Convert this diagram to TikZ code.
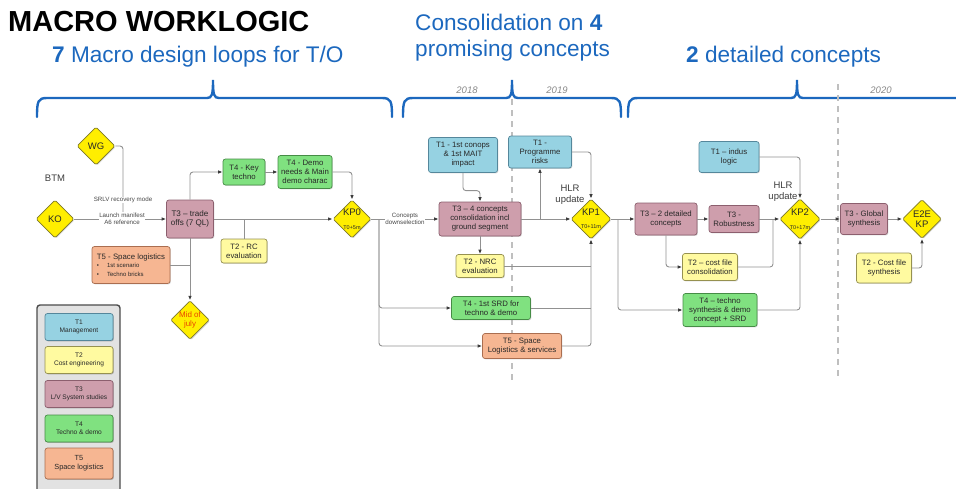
\documentclass[tikz,border=0pt]{standalone}
\usepackage{fontspec}
\setmainfont{Liberation Sans}
\usetikzlibrary{arrows.meta,shapes.geometric,calc,shadows}

\definecolor{hdblue}{RGB}{28,104,190}
\definecolor{txtc}{RGB}{40,40,40}
\definecolor{lnc}{RGB}{145,145,145}
\definecolor{arrc}{RGB}{60,60,60}
\definecolor{fT1}{RGB}{150,210,226}
\definecolor{dT1}{RGB}{85,135,155}
\definecolor{fT2}{RGB}{255,250,160}
\definecolor{dT2}{RGB}{150,145,80}
\definecolor{fT3}{RGB}{206,158,172}
\definecolor{dT3}{RGB}{140,95,110}
\definecolor{fT4}{RGB}{128,225,128}
\definecolor{dT4}{RGB}{70,140,70}
\definecolor{fT5}{RGB}{246,182,146}
\definecolor{dT5}{RGB}{170,110,80}
\definecolor{kpy}{RGB}{255,238,0}
\definecolor{kpd}{RGB}{125,120,40}
\definecolor{redtxt}{RGB}{232,70,0}
\definecolor{yeargray}{RGB}{135,135,135}
\definecolor{legfill}{RGB}{226,226,226}

\newcommand{\fs}[1]{\fontsize{#1}{#1}\selectfont}

\tikzset{
  base/.style={rounded corners=2.5pt, line width=0.7pt, align=center,
    inner sep=1pt, text=txtc, font=\fontsize{7.8}{9}\selectfont,
    drop shadow={shadow xshift=0.9pt, shadow yshift=-0.9pt, opacity=0.3}},
  sz/.style 2 args={minimum width=#1pt, minimum height=#2pt},
  task1/.style={base, fill=fT1, draw=dT1},
  task2/.style={base, fill=fT2, draw=dT2},
  task3/.style={base, fill=fT3, draw=dT3},
  task4/.style={base, fill=fT4, draw=dT4},
  task5/.style={base, fill=fT5, draw=dT5},
  kp/.style={diamond, aspect=1, draw=kpd, fill=kpy, line width=0.7pt,
    minimum width=#1pt, minimum height=#1pt, inner sep=0pt, align=center,
    rounded corners=1.5pt, text=txtc, font=\fontsize{9.5}{10.5}\selectfont,
    drop shadow={shadow xshift=0.9pt, shadow yshift=-0.9pt, opacity=0.3}},
  kp/.default=38,
  link/.style={draw=lnc, line width=0.9pt, rounded corners=3pt},
  arr/.style={link, -{Latex[length=4.5pt,width=3.6pt,color=arrc]}},
  lbl/.style={fill=white, inner sep=0.6pt, text=txtc!85, align=center,
    font=\fontsize{6.2}{7.4}\selectfont},
  hlr/.style={align=center, text=txtc!90, font=\fontsize{9.5}{11}\selectfont},
  year/.style={text=yeargray, font=\fontsize{9.5}{10}\selectfont\itshape},
  brace/.style={draw=hdblue, line width=2.4pt, line cap=round},
  yeardash/.style={draw=black!25, line width=1.2pt, dash pattern=on 6pt off 5pt},
  heading/.style={text=hdblue, font=\fontsize{22.6}{27}\selectfont, anchor=base west},
  legbox/.style={base, sz={68}{27}, font=\fontsize{6.6}{8}\selectfont}
}

\begin{document}
\begin{tikzpicture}[x=1pt,y=-1pt]
\useasboundingbox (0,0) rectangle (956,488);

% ---------- headings ----------
\node[anchor=base west, inner sep=0pt, font=\fontsize{29}{30}\selectfont\bfseries] (title) at (8,31) {MACRO WORKLOGIC};
\node[heading, inner sep=0pt] (h1) at (52,62) {\textbf{7} Macro design  loops  for T/O};
\node[heading, inner sep=0pt] (h2a) at (415,30) {Consolidation on \textbf{4}};
\node[heading, inner sep=0pt] (h2b) at (415,56) {promising  concepts};
\node[heading, inner sep=0pt] (h3) at (686,62) {\textbf{2} detailed concepts};

% ---------- phase braces ----------
\draw[brace] (37,117) .. controls (37,101) and (38,98) .. (47,98) -- (207,98)
  .. controls (212,98) and (213,95) .. (213,80) .. controls (213,95) and (214,98) .. (219,98)
  -- (382,98) .. controls (391,98) and (392,101) .. (392,117);
\draw[brace] (403,117) .. controls (403,101) and (404,98) .. (413,98) -- (506,98)
  .. controls (511,98) and (512,95) .. (512,80) .. controls (512,95) and (513,98) .. (518,98)
  -- (611,98) .. controls (620,98) and (621,101) .. (621,117);
\draw[brace] (628,117) .. controls (628,101) and (629,98) .. (638,98) -- (791,98)
  .. controls (796,98) and (797,95) .. (797,80) .. controls (797,95) and (798,98) .. (803,98)
  -- (960,98);

% ---------- year separators ----------
\draw[yeardash] (512,99) -- (512,380);
\draw[yeardash] (838,84) -- (838,376);
\node[year] (y18) at (467,90) {2018};
\node[year] (y19) at (557,90) {2019};
\node[year] (y20) at (881,90) {2020};

% ---------- phase 1: macro design loops ----------
\node[text=txtc!90, font=\fontsize{9.5}{10}\selectfont] (btm) at (55,178) {BTM};
\node[kp] (wg) at (96,146) {WG};
\node[kp] (ko) at (55,219) {KO};
\node[task3, sz={47}{38}, font=\fontsize{8.1}{9.5}\selectfont] (t3a) at (190,219) {T3 -- trade\\offs (7 QL)};
\node[task5, sz={78}{37}, align=left, inner xsep=4pt] (t5a) at (131,265)
  {T5 - Space logistics\\[-0.5pt]
   {\fontsize{6}{8}\selectfont\textbullet\hspace{8pt}1st scenario}\\
   {\fontsize{6}{8}\selectfont\textbullet\hspace{8pt}Techno bricks}};
\node[kp=37, text=redtxt, font=\fontsize{8}{9.5}\selectfont] (mid) at (190,320) {Mid of\\july};
\node[task4, sz={42}{26}] (t4k) at (244,172) {T4 - Key\\techno};
\node[task4, sz={54}{33}] (t4d) at (305,172) {T4 -  Demo\\needs \& Main\\demo charac};
\node[task2, sz={46}{24}] (t2rc) at (244,251) {T2 - RC\\evaluation};
\node[kp] (kp0) at (352,219) {KP0\\[3pt]{\fs{5.5}T0+5m}};

% ---------- phase 2: consolidation ----------
\node[task1, sz={69}{35}] (t1c) at (463,155) {T1 - 1st conops\\\& 1st MAIT\\impact};
\node[task3, sz={82}{34}] (t34) at (480,219) {T3 -- 4 concepts\\consolidation incl\\ground segment};
\node[task1, sz={63}{32}] (t1p) at (540,152) {T1 -\\Programme\\risks};
\node[kp=39] (kp1) at (591,219) {KP1\\[3pt]{\fs{5.5}T0+11m}};
\node[task2, sz={48}{23}] (t2n) at (480,266) {T2 - NRC\\evaluation};
\node[task4, sz={79}{23}] (t4s) at (491,308) {T4 - 1st SRD for\\techno \& demo};
\node[task5, sz={79}{25}] (t5s) at (522,346) {T5 - Space\\Logistics \& services};
\node[hlr] (hlr1) at (570,195) {HLR\\update};

% ---------- phase 3: detailed concepts ----------
\node[task3, sz={62}{32}] (t32) at (666,219) {T3 -- 2 detailed\\concepts};
\node[task3, sz={50}{27}] (rob) at (734,219) {T3 -\\Robustness};
\node[task2, sz={55}{27}] (t2c) at (710,267) {T2 -- cost file\\consolidation};
\node[task4, sz={74}{33}] (t4t) at (720,310) {T4 -- techno\\synthesis \& demo\\concept +  SRD};
\node[task1, sz={60}{31}] (t1i) at (729,157) {T1 -- indus\\logic};
\node[kp] (kp2) at (800,219) {KP2\\[3pt]{\fs{5.5}T0+17m}};
\node[hlr] (hlr2) at (783,192) {HLR\\update};
\node[task3, sz={47}{31}] (glob) at (864,219) {T3 - Global\\synthesis};
\node[kp=39] (e2e) at (922,219) {E2E\\KP};
\node[task2, sz={55}{30}] (t2s) at (884,268) {T2 - Cost file\\synthesis};

% ---------- junction points ----------
\coordinate (jwg) at (123,219);
\coordinate (j5) at (t3a.south |- t5a.east);
\coordinate (jrc) at (t2rc.north |- t3a.east);
\coordinate (jkp0) at (379,219);
\coordinate (jt1) at ($(t34.north)+(0,-11)$);
\coordinate (jrisk) at (t1p.south |- t34.east);
\coordinate (jkp1) at (618,219);
\coordinate (jcost) at (773,219);

% ---------- connectors ----------
\draw[link] (wg.east) -| (jwg);
\draw[arr] (ko.east) -- (t3a.west);
\node[lbl] (srlv) at (123,200) {SRLV recovery mode};
\node[lbl] (lman) at (122,219) {Launch manifest\\A6 reference};

\draw[link] (t5a.east) -- (j5);
\draw[arr] (t3a.south) -- (mid.north);
\draw[arr] (t3a.north) |- (t4k.west);
\draw[arr] (t4k.east) -- (t4d.west);
\draw[arr] (t4d.east) -| (kp0.north);
\draw[arr] (t3a.east) -- (kp0.west);
\draw[link] (t2rc.north) -- (jrc);

\draw[arr] (kp0.east) -- (t34.west);
\node[lbl] (cds) at (405,219) {Concepts\\downselection};
\draw[arr] (jkp0) |- (t4s.west);
\draw[arr] (jkp0) |- (t5s.west);
\draw[arr] (t1c.south) |- (jt1) -- (t34.north);
\draw[arr] (t34.east) -- (kp1.west);
\draw[arr] (jrisk) -- (t1p.south);
\draw[arr] (t1p.east) -| (kp1.north);
\draw[arr] (t34.south) -- (t2n.north);
\draw[link] (t2n.east) -- (t2n.east -| kp1.south);
\draw[link] (t4s.east) -- (t4s.east -| kp1.south);
\draw[arr] (t5s.east) -| (kp1.south);

\draw[arr] (kp1.east) -- (t32.west);
\draw[arr] (jkp1) |- (t4t.west);
\draw[arr] (t32.east) -- (rob.west);
\draw[arr] (t32.south) |- (t2c.west);
\draw[arr] (rob.east) -- (kp2.west);
\draw[link] (t2c.east) -| (jcost);
\draw[arr] (t4t.east) -| (kp2.south);
\draw[arr] (t1i.east) -| (kp2.north);
\draw[arr] (kp2.east) -- (glob.west);
\draw[arr] (glob.east) -- (e2e.west);
\draw[arr] (t2s.east) -| (e2e.south);

% ---------- legend ----------
\draw[fill=legfill, draw=black!70, line width=1.4pt, rounded corners=3pt]
  (37,305) rectangle (120,494);
\node[task1, legbox] (lg1) at (79,327) {T1\\Management};
\node[task2, legbox] (lg2) at (79,360) {T2\\Cost engineering};
\node[task3, legbox] (lg3) at (79,394) {T3\\L/V System studies};
\node[task4, legbox] (lg4) at (79,428.5) {T4\\Techno \& demo};
\node[task5, legbox, sz={68}{31}, font=\fontsize{7.4}{9}\selectfont] (lg5) at (79,463.5) {T5\\Space logistics};
\end{tikzpicture}
\end{document}
